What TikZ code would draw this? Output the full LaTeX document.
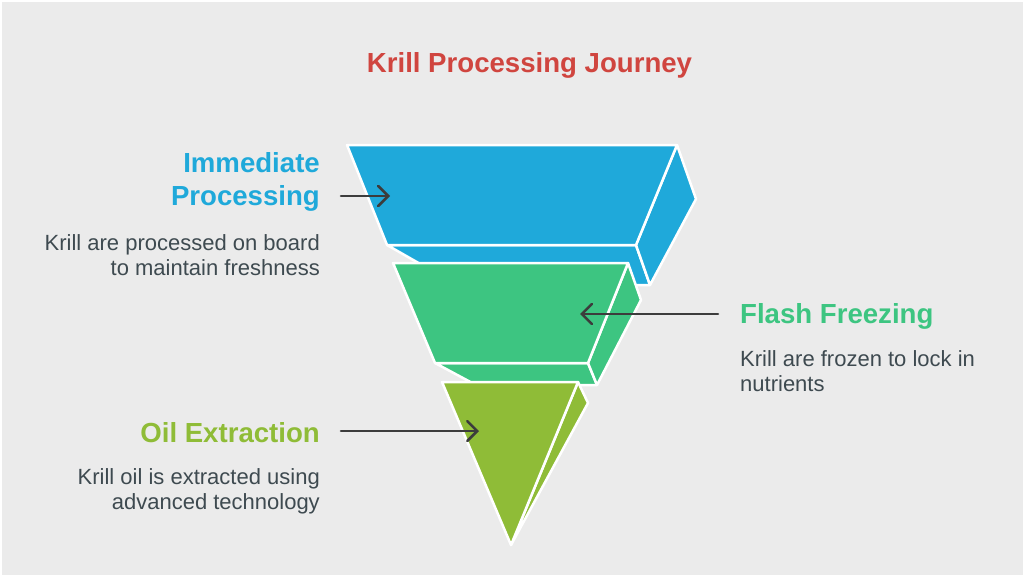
\documentclass[tikz,border=0pt]{standalone}
\usepackage{fontspec}
\setmainfont{Liberation Sans}
\usetikzlibrary{arrows.meta}
\definecolor{bg}{HTML}{EBEBEB}
\definecolor{cblue}{HTML}{1FA9DA}
\definecolor{cgreen}{HTML}{3DC581}
\definecolor{clime}{HTML}{8FBC37}
\definecolor{ctitle}{HTML}{D0453F}
\definecolor{ctext}{HTML}{3E4A50}
\definecolor{carrow}{HTML}{3C3C3C}
\begin{document}
\begin{tikzpicture}[x=1pt,y=-1pt,
  face/.style={draw=white,line width=2.5pt,line join=round},
  heading/.style={font=\bfseries\fontsize{27.6}{33}\selectfont, inner sep=0pt},
  desc/.style={font=\fontsize{22}{25}\selectfont, text=ctext, inner sep=0pt},
  pointer/.style={draw=carrow,line width=2.6pt,line cap=round,
    -{Straight Barb[length=10pt,width=20pt,line cap=round]}}]
\fill[bg] (0,0) rectangle (1024,576);
\draw[white, line width=1.5pt] (0.75,0.75) rectangle (1023.25,575.25);
\useasboundingbox (0,0) rectangle (1024,576);

% title
\node[font=\bfseries\fontsize{27.6}{33}\selectfont, text=ctitle, anchor=base, inner sep=0pt]
  (title) at (529.5,72) {Krill Processing Journey};

% blue segment
\filldraw[face, fill=cblue] (457,285) -- (387,245) -- (636,245) -- (650,285) -- cycle;
\filldraw[face, fill=cblue] (677,145) -- (696,199) -- (650,285) -- (636,245) -- cycle;
\filldraw[face, fill=cblue] (347,145) -- (677,145) -- (636,245) -- (387,245) -- cycle;

% green segment
\filldraw[face, fill=cgreen] (476,385) -- (435,363) -- (588,363) -- (597,385) -- cycle;
\filldraw[face, fill=cgreen] (628,263) -- (641,300) -- (597,385) -- (588,363) -- cycle;
\filldraw[face, fill=cgreen] (393,263) -- (628,263) -- (588,363) -- (435,363) -- cycle;

% lime segment
\filldraw[face, fill=clime] (578,382) -- (588,403) -- (511,545) -- cycle;
\filldraw[face, fill=clime] (442,382) -- (578,382) -- (511,545) -- cycle;

% texts (base anchor = baseline of the last line)
\node[heading, text=cblue, align=right, anchor=base east] (h1) at (320,205) {Immediate\\Processing};
\node[desc, align=right, anchor=base east] (d1) at (320,275) {Krill are processed on board\\to maintain freshness};
\node[heading, text=cgreen, anchor=base west] (h2) at (740,323) {Flash Freezing};
\node[desc, align=left, anchor=base west] (d2) at (740,391) {Krill are frozen to lock in\\nutrients};
\node[heading, text=clime, anchor=base east] (h3) at (320,442) {Oil Extraction};
\node[desc, align=right, anchor=base east] (d3) at (320,509) {Krill oil is extracted using\\advanced technology};

% arrows
\coordinate (a1s) at (341,196); \coordinate (a1e) at (390,196);
\coordinate (a2s) at (718,314); \coordinate (a2e) at (580,314);
\coordinate (a3s) at (341,431); \coordinate (a3e) at (479,431);
\draw[pointer] (a1s) -- (a1e);
\draw[pointer] (a2s) -- (a2e);
\draw[pointer] (a3s) -- (a3e);
\end{tikzpicture}
\end{document}
